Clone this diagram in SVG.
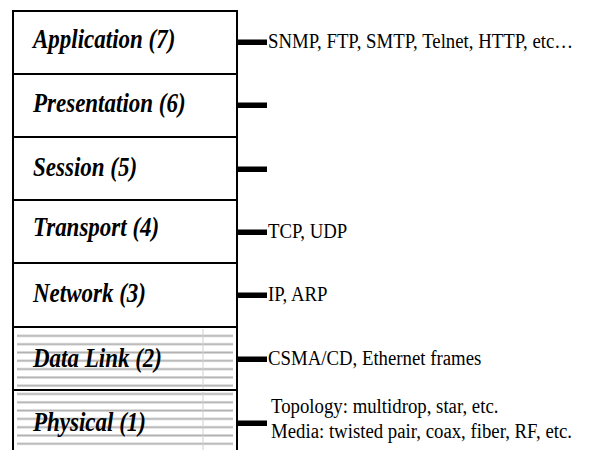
<svg xmlns="http://www.w3.org/2000/svg" width="597" height="450" viewBox="0 0 597 450">
<style>
.box{fill:#fff;stroke:#000;stroke-width:2}
.lbl{font-family:"Liberation Serif","Times New Roman",serif;font-weight:bold;font-style:italic;font-size:23px;fill:#000}
.txt{font-family:"Liberation Serif","Times New Roman",serif;font-size:18.8px;fill:#000}
.bar{fill:#000}
</style>
<defs>
<pattern id="hatch" patternUnits="userSpaceOnUse" x="0" y="334.5" width="597" height="8.3">
<rect x="0" y="0" width="597" height="1" fill="#d4d4d4"/>
<rect x="0" y="1" width="597" height="1.3" fill="#a8a8a8"/>
</pattern>
</defs>
<rect width="597" height="450" fill="#fff"/>
<g id="layer7">
<rect class="box" x="13" y="11" width="224" height="63"/>
<text class="lbl" transform="matrix(1 0 0 1.17 33 48)">Application (7)</text>
</g>
<g id="layer6">
<rect class="box" x="13" y="74" width="224" height="63"/>
<text class="lbl" transform="matrix(1 0 0 1.17 33 112)">Presentation (6)</text>
</g>
<g id="layer5">
<rect class="box" x="13" y="137" width="224" height="63"/>
<text class="lbl" transform="matrix(1 0 0 1.17 33 176)">Session (5)</text>
</g>
<g id="layer4">
<rect class="box" x="13" y="200" width="224" height="63"/>
<text class="lbl" transform="matrix(1 0 0 1.17 33 236)">Transport (4)</text>
</g>
<g id="layer3">
<rect class="box" x="13" y="263" width="224" height="64"/>
<text class="lbl" transform="matrix(1 0 0 1.17 33 302)">Network (3)</text>
</g>
<g id="layer2">
<rect class="box" x="13" y="327" width="224" height="63"/>
<rect x="17" y="329" width="216" height="60" fill="url(#hatch)"/>
<line x1="203" y1="329" x2="203" y2="389" stroke="#d0d0d0" stroke-width="1"/>
<text class="lbl" transform="matrix(1 0 0 1.17 33 367)">Data Link (2)</text>
</g>
<g id="layer1">
<rect class="box" x="13" y="390" width="224" height="70"/>
<rect x="17" y="392" width="216" height="58" fill="url(#hatch)"/>
<line x1="203" y1="392" x2="203" y2="450" stroke="#d0d0d0" stroke-width="1"/>
<text class="lbl" transform="matrix(1 0 0 1.17 33 431)">Physical (1)</text>
</g>
<g id="connectors">
<rect class="bar" x="237" y="39.5" width="30" height="5.5"/>
<rect class="bar" x="237" y="102.5" width="30" height="5.5"/>
<rect class="bar" x="237" y="166.5" width="30" height="5.5"/>
<rect class="bar" x="237" y="229.5" width="30" height="5.5"/>
<rect class="bar" x="237" y="292.5" width="30" height="5.5"/>
<rect class="bar" x="237" y="356.5" width="30" height="5.5"/>
<rect class="bar" x="237" y="420.5" width="30" height="5.5"/>
</g>
<g id="protocols">
<text class="txt" transform="matrix(1 0 0 1.12 268 48)">SNMP, FTP, SMTP, Telnet, HTTP, etc…</text>
<text class="txt" transform="matrix(1 0 0 1.12 268 238)">TCP, UDP</text>
<text class="txt" transform="matrix(1 0 0 1.12 268 301)">IP, ARP</text>
<text class="txt" transform="matrix(1 0 0 1.12 268 365)">CSMA/CD, Ethernet frames</text>
<text class="txt" transform="matrix(1 0 0 1.12 271 413)">Topology: multidrop, star, etc.</text>
<text class="txt" transform="matrix(1 0 0 1.12 271 438)">Media: twisted pair, coax, fiber, RF, etc.</text>
</g>
</svg>
